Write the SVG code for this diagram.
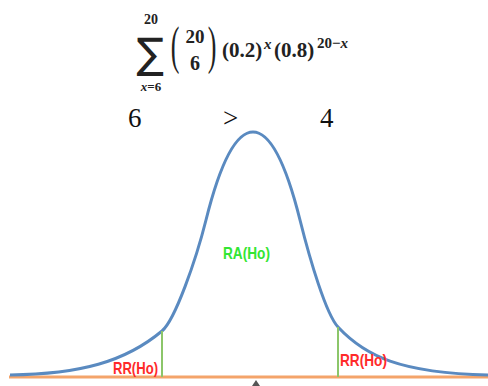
<svg xmlns="http://www.w3.org/2000/svg" width="488" height="386" viewBox="0 0 488 386">
<style>
.m{font-family:"Liberation Serif","DejaVu Serif",serif;font-weight:bold;fill:#222}
.p{font-family:"Liberation Serif","DejaVu Serif",serif;fill:#222;font-size:20px}
.t{font-family:"Liberation Serif",serif;fill:#111;font-size:27px}
.lbl{font-family:"Liberation Sans",Arial,sans-serif;font-weight:bold;font-size:17px}
.rr{fill:#ff2a2a}
.ra{fill:#33e633}
.curve{fill:none;stroke:#5a8ac0;stroke-width:3}
.grn{stroke:#8cc66a;stroke-width:2}
.base{stroke:#f4a46a;stroke-width:3}
</style>
<rect width="488" height="386" fill="#fff"/>
<g id="formula">
<text class="m" x="151" y="24" font-size="14" text-anchor="middle">20</text>
<text transform="translate(150,68) scale(0.85,0.88)" x="0" y="0" font-family="DejaVu Sans,sans-serif" font-size="48" text-anchor="middle" fill="#222">∑</text>
<text class="m" x="151" y="91" font-size="13" text-anchor="middle"><tspan font-style="italic">x</tspan>=6</text>
<text class="p" transform="translate(175,0) scale(1.3,2.6)" x="0" y="24.4" text-anchor="middle">(</text>
<text class="p" transform="translate(212,0) scale(1.3,2.6)" x="0" y="24.4" text-anchor="middle">)</text>
<text class="m" x="195" y="43" font-size="19" text-anchor="middle">20</text>
<text class="m" x="195" y="70" font-size="20" text-anchor="middle">6</text>
<text class="m" x="222" y="57" font-size="21">(0.2)</text>
<text class="m" x="264" y="49" font-size="15" font-style="italic">x</text>
<text class="m" x="274" y="57" font-size="21">(0.8)</text>
<text class="m" x="317" y="48" font-size="15">20−<tspan font-style="italic">x</tspan></text>
</g>
<g id="comparison">
<text class="t" x="128" y="127">6</text>
<text class="t" x="223" y="127">&gt;</text>
<text class="t" x="320" y="127">4</text>
</g>
<g id="connectors">
<line class="base" x1="9" y1="377" x2="488" y2="377"/>
<path class="curve" d="M10,375 C80,374 125,362 162,331 C175,320 196,260 206,220 C216,180 232,132 253,132 C274,132 290,180 300,220 C310,260 326,314 338,327 C365,356 400,373 488,375"/>
<line class="grn" x1="162" y1="331" x2="162" y2="377"/>
<line class="grn" x1="338" y1="327" x2="338" y2="377"/>
<polygon points="256,380 252,386 260,386" fill="#555"/>
</g>
<g id="labels">
<text class="lbl rr" x="113" y="374" textLength="45" lengthAdjust="spacingAndGlyphs">RR(Ho)</text>
<text class="lbl rr" x="340" y="366" textLength="47" lengthAdjust="spacingAndGlyphs">RR(Ho)</text>
<text class="lbl ra" x="223" y="259" textLength="47" lengthAdjust="spacingAndGlyphs">RA(Ho)</text>
</g>
</svg>
